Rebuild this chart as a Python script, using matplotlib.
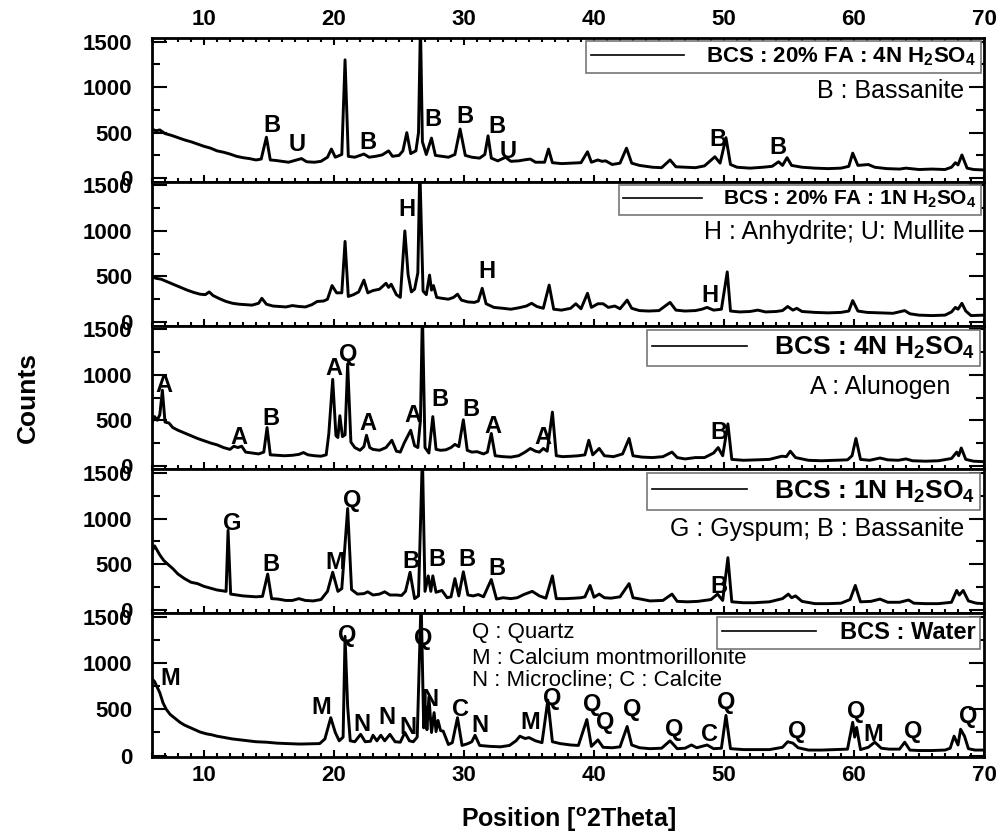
import numpy as np
import matplotlib
matplotlib.use('Agg')
import matplotlib.pyplot as plt
from matplotlib.ticker import MultipleLocator

plt.rcParams['font.family'] = ['Liberation Sans', 'DejaVu Sans']
plt.rcParams['mathtext.fontset'] = 'custom'
plt.rcParams['mathtext.rm'] = 'Liberation Sans'
plt.rcParams['mathtext.bf'] = 'Liberation Sans:bold'
plt.rcParams['mathtext.it'] = 'Liberation Sans:italic'

# XRD patterns (2theta, counts), top panel first
fa_4n = [(6.0, 540), (6.3, 520), (6.6, 530), (7.0, 490), (7.5, 470), (8.0, 445), (8.5, 420), (9.0, 400),
         (9.5, 375), (10.0, 350), (10.5, 330), (11.0, 300), (11.5, 285), (12.0, 265), (12.5, 240), (13.0, 225),
         (13.5, 215), (14.0, 200), (14.4, 210), (14.8, 450), (15.1, 200), (15.5, 195), (16.0, 185), (16.5, 175),
         (17.0, 195), (17.5, 215), (17.9, 180), (18.5, 175), (19.0, 185), (19.5, 230), (19.8, 320), (20.1, 230),
         (20.6, 260), (20.85, 1300), (21.1, 240), (21.6, 230), (22.0, 250), (22.3, 265), (22.7, 230), (23.2, 240),
         (23.7, 255), (24.2, 300), (24.5, 240), (25.0, 250), (25.3, 300), (25.6, 500), (25.9, 270), (26.3, 300),
         (26.5, 500), (26.65, 1700), (26.8, 400), (27.1, 260), (27.5, 440), (27.8, 250), (28.3, 240), (28.8, 230),
         (29.3, 260), (29.7, 540), (30.1, 250), (30.6, 230), (31.2, 220), (31.6, 260), (31.85, 465), (32.1, 220),
         (32.6, 190), (33.2, 230), (33.6, 185), (34.2, 190), (34.6, 200), (35.1, 210), (35.5, 175), (36.2, 175),
         (36.5, 320), (36.8, 170), (37.5, 160), (38.3, 165), (39.0, 170), (39.5, 290), (39.8, 175), (40.3, 200),
         (40.6, 185), (40.9, 190), (41.4, 150), (42.0, 165), (42.5, 330), (42.9, 165), (43.5, 140), (44.5, 120),
         (45.2, 115), (45.85, 200), (46.3, 125), (47.0, 120), (47.8, 115), (48.5, 135), (49.3, 235), (49.7, 165),
         (50.15, 445), (50.5, 150), (51.0, 120), (52.0, 110), (53.0, 120), (53.7, 130), (54.2, 180), (54.5, 140),
         (54.85, 225), (55.2, 140), (56.0, 120), (57.0, 110), (58.0, 105), (59.0, 110), (59.6, 130), (59.9, 275),
         (60.3, 140), (61.1, 150), (61.6, 120), (62.5, 105), (63.5, 100), (64.0, 110), (65.0, 95), (66.0, 100),
         (67.0, 95), (67.5, 120), (67.8, 170), (68.0, 145), (68.3, 255), (68.7, 110), (69.2, 95), (70.0, 90)]

fa_1n = [(6.0, 495), (6.3, 480), (6.7, 470), (7.2, 440), (7.7, 410), (8.2, 380), (8.7, 350), (9.2, 325),
         (9.7, 305), (10.1, 300), (10.4, 330), (10.7, 290), (11.2, 255), (11.7, 225), (12.2, 205), (12.7, 195),
         (13.2, 190), (13.7, 185), (14.2, 205), (14.45, 260), (14.8, 195), (15.3, 175), (15.8, 170), (16.3, 165),
         (16.8, 180), (17.3, 170), (17.8, 165), (18.3, 190), (18.7, 225), (19.2, 230), (19.5, 250), (19.85, 400),
         (20.2, 320), (20.6, 320), (20.85, 885), (21.1, 280), (21.5, 300), (21.9, 330), (22.3, 460), (22.6, 320),
         (23.0, 345), (23.5, 360), (24.0, 425), (24.2, 380), (24.4, 415), (24.8, 300), (25.1, 270), (25.45, 1000),
         (25.7, 520), (25.95, 330), (26.2, 360), (26.45, 540), (26.6, 1700), (26.85, 340), (27.1, 300), (27.35, 515),
         (27.5, 350), (27.65, 400), (27.9, 270), (28.3, 260), (28.8, 250), (29.2, 270), (29.5, 305), (29.8, 240),
         (30.3, 220), (30.8, 215), (31.1, 230), (31.4, 370), (31.7, 200), (32.3, 160), (33.0, 150), (33.6, 140),
         (34.2, 155), (34.8, 175), (35.2, 205), (35.6, 170), (36.1, 150), (36.55, 405), (36.9, 140), (37.5, 130),
         (38.2, 150), (38.6, 200), (39.0, 145), (39.5, 315), (39.8, 160), (40.3, 200), (40.7, 200), (41.1, 160),
         (41.6, 175), (42.0, 145), (42.55, 240), (42.9, 150), (43.5, 125), (44.2, 120), (45.0, 125), (45.85, 215),
         (46.3, 130), (47.0, 120), (47.8, 125), (48.3, 140), (48.7, 160), (49.2, 130), (49.8, 140), (50.25, 550),
         (50.5, 120), (51.2, 110), (52.0, 115), (52.6, 130), (53.2, 110), (54.0, 115), (54.5, 125), (54.9, 170),
         (55.3, 130), (55.6, 150), (56.0, 115), (57.0, 105), (58.0, 100), (59.0, 105), (59.6, 120), (59.9, 235),
         (60.3, 120), (61.0, 105), (62.0, 100), (63.0, 95), (63.9, 125), (64.3, 90), (65.0, 75), (66.0, 70),
         (67.0, 75), (67.5, 110), (67.8, 160), (68.0, 140), (68.3, 205), (68.6, 120), (69.0, 70), (70.0, 75)]

bcs_4n = [(6.0, 470), (6.2, 540), (6.4, 500), (6.6, 560), (6.8, 830), (7.0, 480), (7.3, 470), (7.6, 420),
          (8.0, 390), (8.5, 360), (9.0, 330), (9.5, 300), (10.0, 275), (10.5, 250), (11.0, 230), (11.5, 200),
          (12.0, 180), (12.3, 215), (12.6, 200), (12.9, 215), (13.2, 150), (13.7, 140), (14.2, 130), (14.6, 150),
          (14.85, 420), (15.1, 120), (15.6, 115), (16.2, 110), (16.8, 115), (17.3, 125), (17.65, 145), (18.0, 120),
          (18.5, 110), (19.0, 105), (19.4, 120), (19.6, 350), (19.9, 950), (20.15, 330), (20.3, 310), (20.45, 550),
          (20.65, 320), (20.85, 340), (21.05, 1120), (21.3, 260), (21.6, 200), (22.0, 170), (22.3, 210), (22.5, 335),
          (22.75, 200), (23.0, 180), (23.5, 170), (24.0, 200), (24.45, 280), (24.8, 160), (25.1, 150), (25.4, 250),
          (25.9, 390), (26.2, 220), (26.45, 200), (26.65, 500), (26.8, 1700), (27.0, 200), (27.3, 140), (27.6, 540),
          (27.85, 180), (28.2, 170), (28.6, 175), (29.0, 200), (29.3, 235), (29.6, 210), (29.95, 505), (30.25, 170),
          (30.6, 150), (31.0, 155), (31.5, 130), (31.8, 150), (32.1, 355), (32.4, 110), (33.0, 100), (33.6, 95),
          (34.2, 110), (34.7, 150), (35.1, 190), (35.5, 160), (35.8, 150), (36.1, 190), (36.4, 160), (36.8, 590),
          (37.1, 110), (37.6, 100), (38.3, 105), (38.8, 110), (39.3, 120), (39.6, 280), (39.9, 120), (40.4, 190),
          (40.8, 110), (41.5, 100), (42.2, 130), (42.7, 300), (43.0, 110), (43.7, 95), (44.5, 90), (45.3, 100),
          (46.0, 150), (46.4, 90), (47.0, 75), (47.8, 90), (48.5, 90), (49.2, 140), (49.55, 200), (49.9, 110),
          (50.3, 460), (50.6, 70), (51.5, 60), (52.5, 65), (53.5, 70), (54.45, 105), (54.8, 100), (55.1, 160),
          (55.5, 90), (56.5, 60), (57.5, 55), (58.5, 60), (59.5, 65), (59.85, 110), (60.15, 300), (60.5, 70),
          (61.2, 60), (62.0, 85), (62.6, 65), (63.4, 60), (64.0, 75), (64.5, 55), (65.5, 50), (66.5, 55),
          (67.5, 80), (67.9, 150), (68.05, 110), (68.25, 195), (68.6, 70), (69.2, 50), (70.0, 45)]

bcs_1n = [(6.0, 640), (6.2, 700), (6.4, 650), (6.6, 600), (6.9, 540), (7.2, 500), (7.6, 450), (8.0, 390),
          (8.5, 340), (9.0, 300), (9.5, 285), (10.0, 255), (10.5, 235), (11.0, 215), (11.5, 205), (11.7, 200),
          (11.85, 870), (12.05, 170), (12.5, 160), (13.0, 150), (13.5, 145), (14.0, 140), (14.5, 145), (14.9, 390),
          (15.2, 120), (15.7, 115), (16.3, 100), (16.8, 100), (17.3, 120), (17.8, 100), (18.4, 95), (19.0, 110),
          (19.5, 200), (19.9, 410), (20.3, 200), (20.6, 230), (21.05, 1110), (21.35, 220), (21.8, 170), (22.3, 175),
          (22.6, 195), (23.0, 160), (23.5, 170), (23.9, 195), (24.3, 160), (24.8, 160), (25.2, 155), (25.5, 200),
          (25.85, 410), (26.2, 120), (26.5, 150), (26.8, 1700), (27.0, 200), (27.25, 370), (27.45, 200), (27.6, 370),
          (27.85, 190), (28.3, 210), (28.7, 130), (29.0, 140), (29.3, 340), (29.6, 150), (29.95, 415), (30.3, 160),
          (30.7, 150), (31.1, 165), (31.5, 140), (32.1, 330), (32.5, 115), (33.0, 130), (33.6, 120), (34.1, 130),
          (34.6, 165), (35.25, 200), (35.8, 150), (36.3, 125), (36.8, 370), (37.1, 120), (37.8, 120), (38.5, 125),
          (39.0, 130), (39.3, 140), (39.7, 265), (40.0, 135), (40.4, 170), (40.8, 130), (41.3, 125), (42.0, 140),
          (42.7, 285), (43.0, 130), (43.6, 115), (44.3, 95), (45.3, 100), (46.0, 170), (46.4, 90), (47.2, 85),
          (48.0, 90), (49.0, 110), (49.5, 170), (49.9, 100), (50.3, 570), (50.6, 85), (51.5, 75), (52.3, 75),
          (53.5, 85), (54.5, 120), (54.95, 170), (55.2, 130), (55.5, 150), (56.0, 90), (57.0, 65), (58.0, 65),
          (59.0, 70), (59.7, 110), (60.1, 265), (60.5, 85), (61.3, 90), (62.0, 115), (62.6, 80), (63.5, 80),
          (64.2, 105), (64.6, 70), (65.5, 65), (66.5, 65), (67.5, 80), (67.9, 210), (68.1, 160), (68.4, 210),
          (68.8, 95), (69.4, 70), (70.0, 65)]

water = [(6.0, 830), (6.2, 800), (6.4, 740), (6.6, 680), (6.85, 570), (7.1, 500), (7.4, 445), (7.8, 400),
         (8.15, 360), (8.5, 330), (8.9, 305), (9.3, 280), (9.7, 255), (10.2, 235), (10.6, 225), (11.0, 210),
         (11.6, 195), (12.2, 180), (12.8, 170), (13.4, 160), (14.0, 150), (14.8, 145), (15.6, 135), (16.4, 130),
         (17.4, 125), (18.2, 128), (18.9, 130), (19.3, 180), (19.75, 410), (20.1, 250), (20.4, 160), (20.7, 200),
         (20.85, 1290), (21.05, 530), (21.25, 160), (21.6, 150), (22.05, 230), (22.4, 150), (22.8, 155), (23.0, 220),
         (23.3, 160), (23.6, 220), (23.9, 160), (24.3, 230), (24.7, 150), (25.1, 145), (25.45, 250), (25.8, 160),
         (26.1, 150), (26.4, 200), (26.7, 1700), (26.9, 300), (27.05, 530), (27.15, 280), (27.3, 635), (27.5, 250),
         (27.7, 465), (27.85, 260), (28.0, 380), (28.2, 270), (28.4, 265), (28.8, 120), (29.1, 140), (29.5, 410),
         (29.85, 110), (30.3, 130), (30.6, 150), (30.85, 220), (31.2, 110), (32.0, 100), (32.8, 95), (33.5, 110),
         (34.0, 160), (34.3, 210), (34.7, 185), (35.0, 195), (35.5, 160), (36.0, 140), (36.45, 600), (36.8, 150),
         (37.4, 130), (38.2, 115), (38.8, 110), (39.45, 390), (39.8, 100), (40.3, 170), (40.7, 90), (41.4, 85),
         (42.0, 95), (42.55, 315), (42.9, 115), (43.5, 85), (44.3, 75), (45.2, 80), (45.85, 160), (46.4, 75),
         (47.0, 80), (47.5, 115), (47.9, 85), (48.7, 115), (49.2, 75), (49.8, 80), (50.15, 435), (50.5, 75),
         (51.5, 65), (52.5, 65), (53.5, 65), (54.5, 90), (54.9, 150), (55.3, 135), (55.7, 85), (56.5, 60),
         (57.5, 60), (58.5, 65), (59.5, 70), (59.9, 360), (60.05, 200), (60.2, 305), (60.5, 65), (61.1, 90),
         (61.6, 145), (62.1, 80), (62.7, 70), (63.5, 70), (63.9, 145), (64.3, 60), (65.0, 55), (66.0, 55),
         (67.0, 60), (67.4, 80), (67.7, 210), (68.0, 115), (68.2, 285), (68.5, 210), (68.8, 75), (69.3, 60),
         (70.0, 60)]

patterns = [fa_4n, fa_1n, bcs_4n, bcs_1n, water]
legend_names = [r'BCS : 20% FA : 4N H$_{\mathbf{2}}$SO$_{\mathbf{4}}$',
                r'BCS : 20% FA : 1N H$_{\mathbf{2}}$SO$_{\mathbf{4}}$',
                r'BCS : 4N H$_{\mathbf{2}}$SO$_{\mathbf{4}}$',
                r'BCS : 1N H$_{\mathbf{2}}$SO$_{\mathbf{4}}$',
                'BCS : Water']
legend_sizes = [16, 15, 19, 19, 17]
handle_lens = [4.2, 3.8, 3.6, 3.6, 4.0]

# phase markers (letter, 2theta, counts) per panel
marks = [
    [('B', 15.2, 580), ('U', 17.15, 370), ('B', 22.6, 390), ('B', 27.6, 645), ('B', 30.1, 680),
     ('B', 32.5, 565), ('U', 33.4, 290), ('B', 49.5, 420), ('B', 54.15, 335)],
    [('H', 25.6, 1232), ('H', 31.75, 549), ('H', 48.9, 291)],
    [('A', 6.9, 880), ('A', 12.7, 312), ('B', 15.15, 516), ('A', 20.0, 1064), ('Q', 21.1, 1225),
     ('A', 22.6, 462), ('A', 26.1, 548), ('B', 28.15, 731), ('B', 30.55, 613), ('A', 32.2, 430),
     ('A', 36.1, 312), ('B', 49.6, 366)],
    [('G', 12.2, 950), ('B', 15.15, 496), ('M', 20.1, 517), ('Q', 21.4, 1193), ('B', 25.9, 528),
     ('B', 27.9, 549), ('B', 30.2, 549), ('B', 32.5, 454), ('B', 49.6, 253)],
    [('M', 7.4, 834), ('M', 19.0, 517), ('Q', 21.0, 1300), ('Q', 26.85, 1267), ('N', 22.15, 338),
     ('N', 24.1, 412), ('N', 25.7, 306), ('N', 27.4, 602), ('C', 29.7, 496), ('N', 31.2, 327),
     ('M', 35.1, 359), ('Q', 36.8, 623), ('Q', 39.85, 549), ('Q', 40.85, 359), ('Q', 42.9, 496),
     ('Q', 46.2, 285), ('C', 48.9, 232), ('Q', 50.2, 570), ('Q', 55.6, 264), ('Q', 60.2, 475),
     ('M', 61.5, 232), ('Q', 64.55, 264), ('Q', 68.8, 422)],
]

# phase keys (text, 2theta, counts, alignment, size)
keys = [
    [('B : Bassanite', 68.5, 960, 'right', 18)],
    [('H : Anhydrite; U: Mullite', 68.5, 985, 'right', 18)],
    [('A : Alunogen', 67.4, 870, 'right', 18)],
    [('G : Gyspum; B : Bassanite', 68.5, 887, 'right', 18)],
    [('Q : Quartz', 30.6, 1330, 'left', 16), ('M : Calcium montmorillonite', 30.6, 1050, 'left', 16),
     ('N : Microcline; C : Calcite', 30.6, 810, 'left', 16)],
]

fig = plt.figure(figsize=(10.03, 8.34), dpi=100)
left = 152 / 1003
width = (984 - 152) / 1003
top_px = 38
panel_px = 143.8

for i, data in enumerate(patterns):
    bottom = 1 - (top_px + panel_px * (i + 1)) / 834
    ax = fig.add_axes([left, bottom, width, panel_px / 834])
    pos, cnt = zip(*data)
    ax.plot(pos, cnt, color='black', lw=2.1, label=legend_names[i])
    ax.set_xlim(6, 70)
    if i == 4:
        ax.set_ylim(-15, 1540)
    else:
        ax.set_ylim(-40, 1540)

    ax.xaxis.set_major_locator(MultipleLocator(10))
    ax.xaxis.set_minor_locator(MultipleLocator(1))
    ax.yaxis.set_major_locator(MultipleLocator(500))
    ax.yaxis.set_minor_locator(MultipleLocator(250))
    ax.tick_params(axis='both', which='both', direction='in', width=1.5, labelsize=16)
    ax.tick_params(axis='x', which='major', length=5, top=(i == 0), bottom=True,
                   labeltop=(i == 0), labelbottom=(i == 4), pad=6)
    ax.tick_params(axis='x', which='minor', length=3, top=(i == 0), bottom=True)
    ax.tick_params(axis='y', which='major', length=11, left=True, right=True, pad=14)
    ax.tick_params(axis='y', which='minor', length=6, left=True, right=True)
    for lab in ax.get_xticklabels() + ax.get_yticklabels():
        lab.set_fontweight('bold')
    for sp in ax.spines.values():
        sp.set_linewidth(2)

    leg = ax.legend(loc='upper right', fancybox=False, edgecolor='#777777', framealpha=1,
                    borderaxespad=0.15, handlelength=handle_lens[i], handletextpad=1.0,
                    borderpad=0.2, prop={'weight': 'bold', 'size': legend_sizes[i]})
    for line in leg.get_lines():
        line.set_linewidth(1.2)
    leg.get_frame().set_linewidth(1.2)

    for letter, x, y in marks[i]:
        ax.text(x, y, letter, ha='center', va='center', fontsize=17, fontweight='bold')
    for txt, x, y, al, fs in keys[i]:
        ax.text(x, y, txt, ha=al, va='center', fontsize=fs)

    if i == 2:
        ax.set_ylabel('Counts', fontsize=19, fontweight='bold')
        ax.yaxis.set_label_coords(-0.135, 0.5)
    if i == 4:
        ax.set_xlabel(r'Position [$^{\mathbf{o}}$2Theta]', fontsize=18, fontweight='bold', labelpad=14)

fig.savefig('out.png', dpi=100)
